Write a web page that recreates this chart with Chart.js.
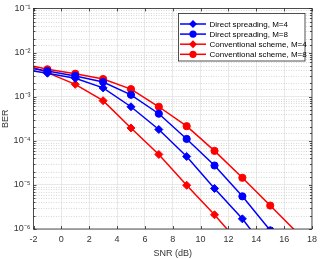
<!DOCTYPE html>
<html>
<head>
    <title>BER vs SNR</title>
    <script src="https://cdn.jsdelivr.net/npm/chart.js"></script>
    <style>
        body { margin: 0; background: #fff; }
        #wrap { width: 322px; height: 259px; }
    </style>
</head>
<body>
    <div id="wrap">
        <canvas id="myChart"></canvas>
    </div>

    <script>
        // SNR points (dB); first point at -2 carries no marker
        const snr = [-2, -1, 1, 3, 5, 7, 9, 11, 13, 15, 17];

        // BER
        const berDirectM4 = [3.8e-3, 3.4e-3, 2.6e-3, 1.58e-3, 5.9e-4, 1.8e-4, 4.4e-5, 8.3e-6, 1.7e-6, 2.6e-7];
        const berDirectM8 = [4.3e-3, 3.8e-3, 2.95e-3, 2.14e-3, 1.1e-3, 4.1e-4, 1.1e-4, 2.75e-5, 5.5e-6, 9.3e-7];
        const berConvM4 = [4.6e-3, 3.5e-3, 1.9e-3, 8.1e-4, 1.95e-4, 4.9e-5, 9.8e-6, 2.1e-6, 4.0e-7];
        const berConvM8 = [4.9e-3, 4.17e-3, 3.31e-3, 2.51e-3, 1.48e-3, 5.9e-4, 2.14e-4, 5.9e-5, 1.45e-5, 3.4e-6, 7.9e-7];

        const seriesNames = ['Direct spreading, M=4', 'Direct spreading, M=8',
            'Conventional scheme, M=4', 'Conventional scheme, M=8'];
        const xTicks = [-2, 0, 2, 4, 6, 8, 10, 12, 14, 16, 18];
        const yDecades = [1e-6, 1e-5, 1e-4, 1e-3, 1e-2, 1e-1];

        const FONT = 'Liberation Sans, Arial, Helvetica, sans-serif';
        const sup = { '-': '\u207B', '1': '\u00B9', '2': '\u00B2', '3': '\u00B3', '4': '\u2074', '5': '\u2075', '6': '\u2076' };

        function isDecade(v) {
            const l = Math.log10(v);
            return Math.abs(l - Math.round(l)) < 1e-6;
        }

        function makeSet(label, values, color, style) {
            return {
                label: label,
                data: values.map((v, i) => ({ x: snr[i], y: v })),
                borderColor: color,
                backgroundColor: color,
                borderWidth: 1.5,
                pointStyle: style,
                pointRadius: (ctx) => ctx.dataIndex === 0 ? 0 : (style === 'circle' ? 3.6 : 4),
                pointBorderWidth: 1,
                tension: 0,
                clip: 0
            };
        }

        const data = {
            datasets: [
                makeSet(seriesNames[0], berDirectM4, '#0000ff', 'rectRot'),
                makeSet(seriesNames[1], berDirectM8, '#0000ff', 'circle'),
                makeSet(seriesNames[2], berConvM4, '#ff0000', 'rectRot'),
                makeSet(seriesNames[3], berConvM8, '#ff0000', 'circle')
            ]
        };

        // minor dotted grid, box, inward ticks and the legend
        const matlabLook = {
            id: 'matlabLook',
            beforeDatasetsDraw(chart) {
                const { ctx, chartArea: a, scales } = chart;
                ctx.save();
                ctx.strokeStyle = '#cfcfcf';
                ctx.lineWidth = 0.8;
                ctx.setLineDash([1, 1.5]);
                scales.y.ticks.forEach(t => {
                    if (isDecade(t.value)) return;
                    const y = Math.round(scales.y.getPixelForValue(t.value)) + 0.5;
                    ctx.beginPath();
                    ctx.moveTo(a.left, y);
                    ctx.lineTo(a.right, y);
                    ctx.stroke();
                });
                ctx.restore();
            },
            afterDatasetsDraw(chart) {
                const { ctx, chartArea: a, scales } = chart;
                ctx.save();
                ctx.strokeStyle = '#262626';
                ctx.lineWidth = 0.8;
                ctx.strokeRect(a.left, a.top, a.right - a.left, a.bottom - a.top);
                ctx.beginPath();
                scales.y.ticks.forEach(t => {
                    const y = Math.round(scales.y.getPixelForValue(t.value)) + 0.5;
                    const len = isDecade(t.value) ? 3 : 2;
                    ctx.moveTo(a.left, y); ctx.lineTo(a.left + len, y);
                    ctx.moveTo(a.right, y); ctx.lineTo(a.right - len, y);
                });
                xTicks.forEach(v => {
                    const x = Math.round(scales.x.getPixelForValue(v)) + 0.5;
                    ctx.moveTo(x, a.bottom); ctx.lineTo(x, a.bottom - 3);
                    ctx.moveTo(x, a.top); ctx.lineTo(x, a.top + 3);
                });
                ctx.stroke();

                // legend
                const bx = 178.5, by = 13.5, bw = 126.5, bh = 47.5;
                ctx.fillStyle = '#ffffff';
                ctx.fillRect(bx, by, bw, bh);
                ctx.strokeStyle = '#262626';
                ctx.lineWidth = 0.8;
                ctx.strokeRect(bx, by, bw, bh);
                ctx.font = '8px ' + FONT;
                ctx.textBaseline = 'middle';
                ctx.textAlign = 'left';
                chart.data.datasets.forEach((ds, i) => {
                    const y = 24 + i * 10.1;
                    ctx.strokeStyle = ds.borderColor;
                    ctx.fillStyle = ds.borderColor;
                    ctx.lineWidth = 1.5;
                    ctx.beginPath();
                    ctx.moveTo(180, y);
                    ctx.lineTo(206, y);
                    ctx.stroke();
                    ctx.beginPath();
                    if (ds.pointStyle === 'circle') {
                        ctx.arc(193, y, 3.6, 0, Math.PI * 2);
                    } else {
                        ctx.moveTo(193, y - 4); ctx.lineTo(197, y);
                        ctx.lineTo(193, y + 4); ctx.lineTo(189, y);
                        ctx.closePath();
                    }
                    ctx.fill();
                    ctx.fillStyle = '#000000';
                    ctx.fillText(ds.label, 209.5, y + 0.5);
                });
                ctx.restore();
            }
        };

        const config = {
            type: 'line',
            data: data,
            options: {
                responsive: false,
                animation: false,
                layout: { padding: { top: 7, right: 8.5, left: 0, bottom: 0 } },
                plugins: {
                    legend: { display: false },
                    tooltip: { enabled: false }
                },
                scales: {
                    x: {
                        type: 'linear',
                        min: -2,
                        max: 18,
                        afterBuildTicks: (scale) => {
                            scale.ticks = xTicks.map(v => ({ value: v }));
                        },
                        afterFit: (scale) => { scale.height = 30; },
                        grid: { color: '#e3e3e3', lineWidth: 0.8, drawTicks: false },
                        border: { display: false },
                        ticks: {
                            color: '#333333',
                            padding: 5,
                            maxRotation: 0,
                            autoSkip: false,
                            font: { family: FONT, size: 9 }
                        },
                        title: {
                            display: true,
                            text: 'SNR (dB)',
                            color: '#333333',
                            padding: { top: 1, bottom: 0 },
                            font: { family: FONT, size: 9 }
                        }
                    },
                    y: {
                        type: 'logarithmic',
                        min: 1e-6,
                        max: 1e-1,
                        afterFit: (scale) => { scale.width = 33.5; },
                        grid: {
                            color: (ctx) => ctx.tick && isDecade(ctx.tick.value) ? '#e3e3e3' : 'rgba(0,0,0,0)',
                            lineWidth: 0.8,
                            drawTicks: false
                        },
                        border: { display: false },
                        ticks: {
                            color: '#333333',
                            padding: 3,
                            autoSkip: false,
                            font: { family: FONT, size: 9 },
                            callback: (v) => {
                                if (!isDecade(v)) return '';
                                const e = String(Math.round(Math.log10(v)));
                                return '10' + e.split('').map(c => sup[c]).join('');
                            }
                        },
                        title: {
                            display: true,
                            text: 'BER',
                            color: '#333333',
                            padding: { top: 0, bottom: 0 },
                            font: { family: FONT, size: 9 }
                        }
                    }
                }
            },
            plugins: [matlabLook]
        };

        const canvas = document.getElementById('myChart');
        canvas.width = 322;
        canvas.height = 259;
        const myChart = new Chart(canvas, config);
    </script>
</body>
</html>
